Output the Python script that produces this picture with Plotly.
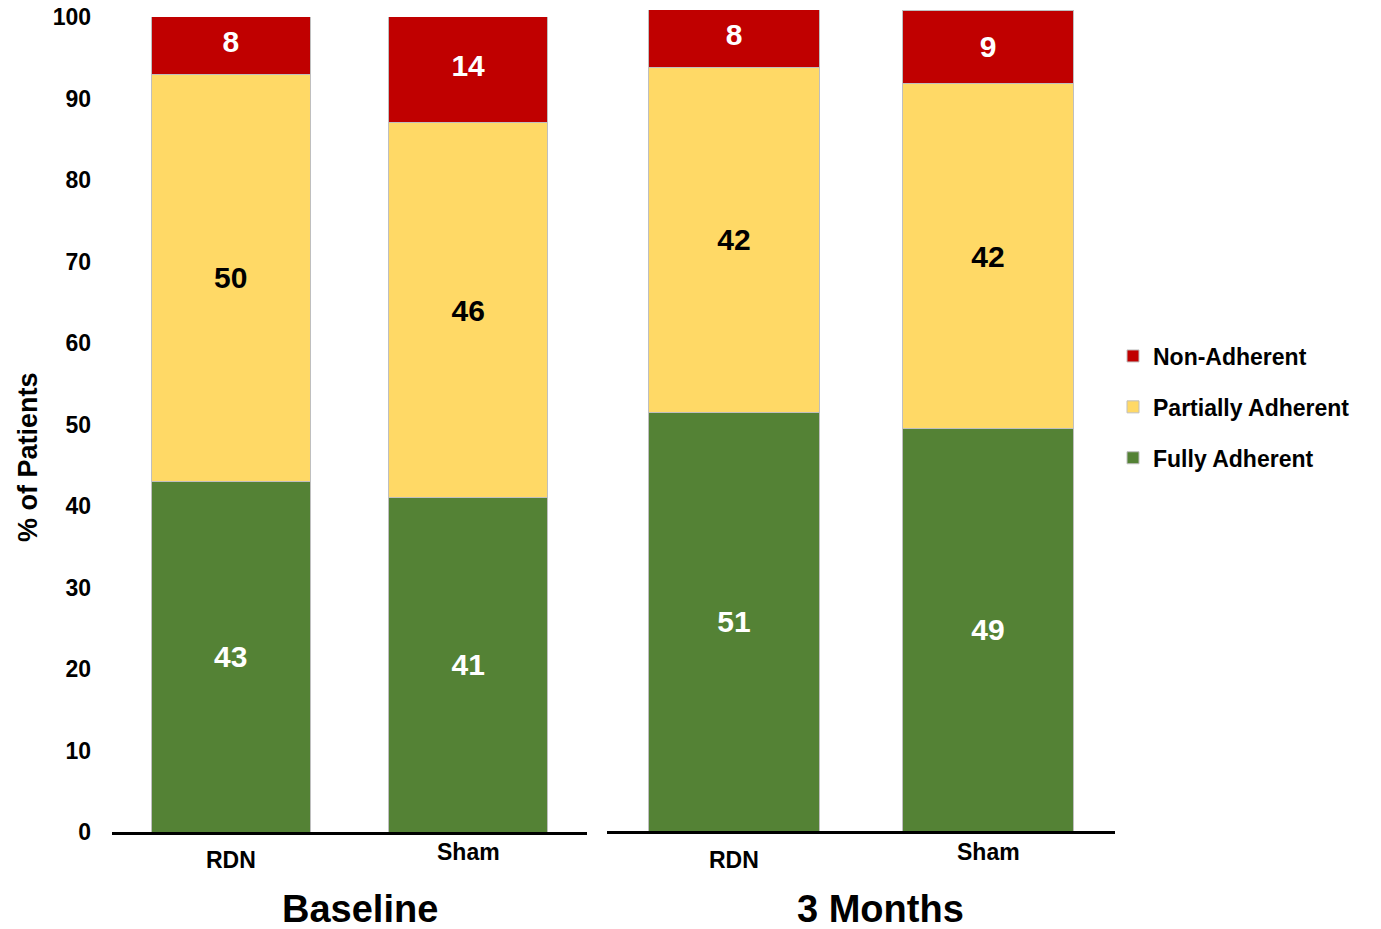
import plotly.graph_objects as go

# Adherence breakdown (% of patients) by arm, at baseline and at 3 months
categories = ["RDN", "Sham"]
periods = ["Baseline", "3 Months"]

fully_baseline = [43, 41]
partial_baseline = [50, 46]
non_baseline = [8, 14]

fully_3m = [51, 49]
partial_3m = [42, 42]
non_3m = [8, 9]

y_ticks = list(range(0, 101, 10))

# (name, fill, label colour, legend rank, baseline values, 3-month values)
series = [
    ("Fully Adherent", "#548235", "white", 3, fully_baseline, fully_3m),
    ("Partially Adherent", "#FFD966", "black", 2, partial_baseline, partial_3m),
    ("Non-Adherent", "#C00000", "white", 1, non_baseline, non_3m),
]

FONT = "Liberation Sans, Arial, sans-serif"
W, H = 1381, 929

fig = go.Figure()
for name, color, txt_color, rank, base_vals, m3_vals in series:
    for axis_idx, vals in enumerate([base_vals, m3_vals]):
        fig.add_trace(go.Bar(
            x=categories,
            y=vals,
            name=name,
            legendgroup=name,
            legendrank=rank,
            showlegend=(axis_idx == 0),
            marker=dict(color=color, line=dict(color="#BFBFBF", width=1)),
            text=[str(v) for v in vals],
            textposition="inside",
            insidetextanchor="middle",
            constraintext="none",
            textfont=dict(family=FONT, size=30, color=txt_color, weight="bold"),
            xaxis="x" if axis_idx == 0 else "x2",
            yaxis="y" if axis_idx == 0 else "y2",
            hoverinfo="skip",
        ))


def px_x(p):
    return p / W


def px_y(p):
    return (H - p) / H


xaxis_common = dict(
    type="category",
    showline=True,
    linecolor="black",
    linewidth=2.5,
    showticklabels=False,
    ticks="",
    showgrid=False,
    zeroline=False,
    automargin=False,
    fixedrange=True,
)

fig.update_layout(
    width=W,
    height=H,
    margin=dict(l=0, r=0, t=0, b=0, autoexpand=False),
    paper_bgcolor="white",
    plot_bgcolor="white",
    barmode="stack",
    bargap=0.33,
    font=dict(family=FONT, color="black"),
    xaxis=dict(domain=[px_x(112), px_x(587)], anchor="y", **xaxis_common),
    xaxis2=dict(domain=[px_x(607), px_x(1115)], anchor="y2", **xaxis_common),
    yaxis=dict(
        domain=[px_y(832), px_y(17)],
        range=[0, 100],
        tickvals=y_ticks,
        ticktext=[str(t) for t in y_ticks],
        tickfont=dict(family=FONT, size=23, color="black", weight="bold"),
        ticklabelstandoff=20,
        showgrid=False,
        zeroline=False,
        showline=False,
        ticks="",
        automargin=False,
        anchor="x",
    ),
    yaxis2=dict(
        domain=[px_y(831), px_y(10)],
        range=[0, 100],
        showticklabels=False,
        showgrid=False,
        zeroline=False,
        showline=False,
        ticks="",
        automargin=False,
        anchor="x2",
    ),
    legend=dict(
        x=px_x(1113),
        y=px_y(407),
        xanchor="left",
        yanchor="middle",
        traceorder="grouped",
        tracegroupgap=18,
        itemwidth=30,
        font=dict(family=FONT, size=23, color="black", weight="bold"),
        bgcolor="rgba(0,0,0,0)",
    ),
)

# Category labels under each bar (RDN sits a little lower than Sham)
cat_label_y = {"RDN": 860, "Sham": 852}
for xref in ["x", "x2"]:
    for cat in categories:
        fig.add_annotation(
            x=cat, xref=xref,
            y=px_y(cat_label_y[cat]), yref="paper",
            text=cat, showarrow=False,
            xanchor="center", yanchor="middle",
            font=dict(family=FONT, size=23, color="black", weight="bold"),
        )

# Period titles
for label, cx in zip(periods, [360, 880]):
    fig.add_annotation(
        x=px_x(cx), xref="paper",
        y=px_y(909), yref="paper",
        text=label, showarrow=False,
        xanchor="center", yanchor="middle",
        font=dict(family=FONT, size=38, color="black", weight="bold"),
    )

# Y axis title
fig.add_annotation(
    x=px_x(28), xref="paper",
    y=px_y(457), yref="paper",
    text="% of Patients", showarrow=False,
    textangle=-90,
    xanchor="center", yanchor="middle",
    font=dict(family=FONT, size=27, color="black", weight="bold"),
)

fig.write_html("out.html")
